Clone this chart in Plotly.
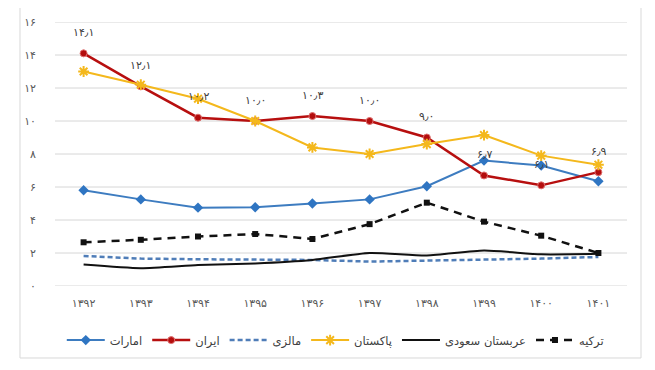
import plotly.graph_objects as go

years = ["۱۳۹۲", "۱۳۹۳", "۱۳۹۴", "۱۳۹۵", "۱۳۹۶", "۱۳۹۷", "۱۳۹۸", "۱۳۹۹", "۱۴۰۰", "۱۴۰۱"]
y_tickvals = [0, 2, 4, 6, 8, 10, 12, 14, 16]
y_ticktext = ["۰", "۲", "۴", "۶", "۸", "۱۰", "۱۲", "۱۴", "۱۶"]

uae = [5.8, 5.25, 4.75, 4.77, 5.0, 5.25, 6.05, 7.6, 7.3, 6.35]
iran = [14.1, 12.1, 10.2, 10.0, 10.3, 10.0, 9.0, 6.7, 6.1, 6.9]
iran_labels = ["۱۴٫۱", "۱۲٫۱", "۱۰٫۲", "۱۰٫۰", "۱۰٫۳", "۱۰٫۰", "۹٫۰", "۶٫۷", "۶٫۱", "۶٫۹"]
malaysia = [1.82, 1.66, 1.62, 1.62, 1.58, 1.48, 1.53, 1.58, 1.66, 1.76]
pakistan = [13.0, 12.2, 11.35, 10.0, 8.4, 8.0, 8.6, 9.15, 7.9, 7.35]
saudi = [1.3, 1.08, 1.27, 1.37, 1.58, 2.0, 1.85, 2.15, 1.92, 1.95]
turkey = [2.65, 2.8, 3.0, 3.15, 2.85, 3.75, 5.05, 3.9, 3.05, 2.0]

names = ["امارات", "ایران", "مالزی", "پاکستان", "عربستان سعودی", "ترکیه"]

FONT = "DejaVu Sans"
fig = go.Figure()

for gv in y_tickvals:
    fig.add_shape(type="line", xref="paper", yref="y", x0=0, x1=1, y0=gv, y1=gv,
                  line=dict(color="#D6D6D6", width=1), layer="below")

fig.add_trace(go.Scatter(x=years, y=uae, name=names[0], mode="lines+markers",
                         line=dict(color="#3D7CC0", width=2),
                         marker=dict(symbol="diamond", size=8, color="#2F75C2")))
fig.add_trace(go.Scatter(x=years, y=iran, name=names[1], mode="lines+markers",
                         line=dict(color="#B70F0F", width=2.5),
                         marker=dict(symbol="circle", size=7, color="#B30D0D",
                                     line=dict(color="#E07070", width=1))))
fig.add_trace(go.Scatter(x=years, y=malaysia, name=names[2], mode="lines",
                         line=dict(color="#4F7DB8", width=2.5, dash="5px,3px")))
fig.add_trace(go.Scatter(x=years, y=pakistan, name=names[3], mode="lines+markers",
                         line=dict(color="#F4B81C", width=2),
                         marker=dict(symbol="asterisk-open", size=9,
                                     line=dict(color="#F4B81C", width=2))))
fig.add_trace(go.Scatter(x=years, y=saudi, name=names[4], mode="lines",
                         line=dict(color="#111111", width=2, shape="spline", smoothing=0.6)))
fig.add_trace(go.Scatter(x=years, y=turkey, name=names[5], mode="lines+markers",
                         line=dict(color="#111111", width=2.5, dash="8px,6px"),
                         marker=dict(symbol="square", size=6, color="#111111")))

for xv, yv, t in zip(years, iran, iran_labels):
    fig.add_annotation(x=xv, y=yv, text=t, showarrow=False, yshift=21,
                       font=dict(family=FONT, size=11, color="#404040"))

fig.add_shape(type="rect", xref="paper", yref="paper",
              x0=-0.0612, x1=1.0245, y0=-0.2727, y1=1.0644,
              line=dict(color="#D9D9D9", width=1), fillcolor="rgba(0,0,0,0)")

fig.update_layout(
    width=647, height=362,
    margin=dict(l=47, r=28, t=14, b=84, autoexpand=False),
    paper_bgcolor="white", plot_bgcolor="white",
    font=dict(family=FONT, size=10, color="#595959"),
    showlegend=True,
    legend=dict(orientation="h", x=0.49, xanchor="center", y=-0.205, yanchor="middle",
                font=dict(family=FONT, size=11.5, color="#404040"),
                itemwidth=38, tracegroupgap=0),
)
fig.update_xaxes(type="category", range=[-0.5, 9.5], showgrid=False, showline=False,
                 zeroline=False, automargin=False, ticks="", ticklabelstandoff=9,
                 tickfont=dict(size=11, color="#595959"))
fig.update_yaxes(range=[0, 16], tickvals=y_tickvals, ticktext=y_ticktext,
                 showgrid=False, zeroline=False,
                 automargin=False, showline=False, ticks="", ticklabelstandoff=18,
                 tickfont=dict(size=11, color="#595959"))

fig.write_html("out.html")
